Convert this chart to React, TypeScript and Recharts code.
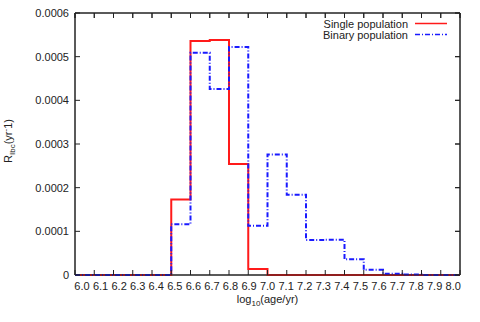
import React from 'react';
import { LineChart, Line, XAxis, YAxis, Legend, Label, ReferenceArea } from 'recharts';

// bin edges, log10(age/yr)
const ageEdges = [
  6.0, 6.1, 6.2, 6.3, 6.4, 6.5, 6.6, 6.7, 6.8, 6.9, 7.0,
  7.1, 7.2, 7.3, 7.4, 7.5, 7.6, 7.7, 7.8, 7.9, 8.0,
];

// rate per bin (value for the bin starting at ageEdges[i])
const singlePop = [
  0, 0, 0, 0, 0, 0.000173, 0.000536, 0.000538, 0.000254, 0.000014,
  0, 0, 0, 0, 0, 0, 0, 0, 0, 0,
];
const binaryPop = [
  0, 0, 0, 0, 0, 0.000116, 0.000509, 0.000426, 0.000522, 0.000113,
  0.000276, 0.000184, 0.00008, 0.000081, 0.000036, 0.000012, 0.000003, 0.000001, 0, 0,
];

const rateTicks = [0, 0.0001, 0.0002, 0.0003, 0.0004, 0.0005, 0.0006];
const rateLabels = ['0', '0.0001', '0.0002', '0.0003', '0.0004', '0.0005', '0.0006'];

const seriesOrder = ['single', 'binary'];

const FONT = '"Liberation Sans", Arial, Helvetica, sans-serif';
const INK = '#222';
// top/right axes are 20px bands, so the plot box ends up at top 13, right 460
const MARGIN = { top: -7, right: 0, bottom: 0, left: 0 };
const PLOT_TOP = 13;
const PLOT_RIGHT = 460;

const rows = ageEdges.map((age, i) => ({
  age,
  single: singlePop[Math.min(i, singlePop.length - 1)],
  binary: binaryPop[Math.min(i, binaryPop.length - 1)],
}));

// gnuplot spreads the labels a little tighter than the tics; also mirror tic on top
const AgeTick = (props: any) => {
  const { x, y, payload, index } = props;
  const i = typeof index === 'number' ? index : Math.round((payload.value - 6) * 10);
  return (
    <g>
      <line x1={x} y1={PLOT_TOP} x2={x} y2={PLOT_TOP + 5} stroke={INK} strokeWidth={1} />
      <text x={x + 7 - i * 0.69} y={y} dy="0.71em" textAnchor="middle" fontSize={11} fontFamily={FONT} fill={INK}>
        {payload.value.toFixed(1)}
      </text>
    </g>
  );
};

const RateTick = (props: any) => {
  const { x, y, payload } = props;
  const idx = rateTicks.indexOf(payload.value);
  return (
    <g>
      <line x1={PLOT_RIGHT - 5} y1={y} x2={PLOT_RIGHT} y2={y} stroke={INK} strokeWidth={1} />
      <text x={x} y={y} dy="0.355em" textAnchor="end" fontSize={11} fontFamily={FONT} fill={INK}>
        {idx >= 0 ? rateLabels[idx] : String(payload.value)}
      </text>
    </g>
  );
};

const XTitle = (props: any) => {
  const vb = props.viewBox || { x: 75, width: 385 };
  return (
    <text x={vb.x + vb.width / 2} y={303} textAnchor="middle" fontSize={11} fontFamily={FONT} fill={INK}>
      log<tspan dy={3} fontSize={8}>10</tspan>
      <tspan dy={-3}>(age/yr)</tspan>
    </text>
  );
};

const YTitle = () => (
  <text transform="translate(12,141) rotate(-90)" textAnchor="middle" fontSize={11} fontFamily={FONT} fill={INK}>
    R<tspan dy={3} fontSize={8}>Ibc</tspan>
    <tspan dy={-3}>(yr</tspan>
    <tspan dy={-4} fontSize={8}>-</tspan>
    <tspan dy={4}>1)</tspan>
  </text>
);

const LegendBox = (props: any) => {
  const items = [...(props.payload || [])]
    .filter((it: any) => it.type !== 'none' && it.value)
    .sort((a: any, b: any) => seriesOrder.indexOf(a.dataKey) - seriesOrder.indexOf(b.dataKey));
  return (
    <svg width={200} height={45} style={{ display: 'block' }}>
      {items.map((it: any, i: number) => (
        <g key={it.value}>
          <text x={161} y={27.5 + i * 11} textAnchor="end" fontSize={11} fontFamily={FONT} fill={INK}>
            {it.value}
          </text>
          <line x1={168} y1={23.5 + i * 11} x2={200} y2={23.5 + i * 11} stroke={it.color} strokeWidth={1.5}
            strokeDasharray={it.payload?.strokeDasharray} />
        </g>
      ))}
    </svg>
  );
};

export default function App() {
  return (
    <div style={{ position: 'absolute', left: 0, top: 0, width: 480, height: 322, background: '#fff' }}>
      <LineChart width={480} height={322} data={rows} margin={MARGIN}>
        <XAxis
          dataKey="age"
          type="number"
          domain={[6, 8]}
          ticks={ageEdges}
          interval={0}
          tickSize={-5}
          tickMargin={12}
          height={47}
          stroke={INK}
          tick={(p: any) => <AgeTick {...p} />}
        >
          <Label content={XTitle} />
        </XAxis>
        <XAxis
          xAxisId="top"
          dataKey="age"
          orientation="top"
          type="number"
          domain={[6, 8]}
          ticks={ageEdges}
          tickSize={-5}
          height={20}
          stroke={INK}
          tick={{ fill: 'none', fontSize: 1 }}
        />
        <YAxis
          type="number"
          domain={[0, 0.0006]}
          ticks={rateTicks}
          interval={0}
          tickSize={-5}
          tickMargin={11}
          width={75}
          stroke={INK}
          tick={(p: any) => <RateTick {...p} />}
        >
          <Label content={YTitle} />
        </YAxis>
        <YAxis
          yAxisId="right"
          orientation="right"
          type="number"
          domain={[0, 0.0006]}
          ticks={rateTicks}
          tickSize={-5}
          width={20}
          stroke={INK}
          tick={{ fill: 'none', fontSize: 1 }}
        />
        {/* plot frame */}
        <ReferenceArea x1={6} x2={8} y1={0} y2={0.0006} fill="none" stroke={INK} strokeWidth={1} ifOverflow="visible" />
        <Legend
          layout="horizontal"
          verticalAlign="middle"
          align="center"
          content={LegendBox}
          wrapperStyle={{ top: 0, left: 247, width: 200, height: 45 }}
        />
        {/* invisible series binding the mirrored frame axes */}
        <Line
          xAxisId="top"
          yAxisId="right"
          dataKey="single"
          stroke="transparent"
          legendType="none"
          dot={false}
          activeDot={false}
          isAnimationActive={false}
        />
        <Line
          type="stepAfter"
          dataKey="single"
          name="Single population"
          stroke="#ff1a1a"
          strokeWidth={2}
          dot={false}
          activeDot={false}
          isAnimationActive={false}
        />
        <Line
          type="stepAfter"
          dataKey="binary"
          name="Binary population"
          stroke="#1a1aff"
          strokeWidth={2}
          strokeDasharray="5 2 1 2"
          dot={false}
          activeDot={false}
          isAnimationActive={false}
        />
      </LineChart>
    </div>
  );
}
